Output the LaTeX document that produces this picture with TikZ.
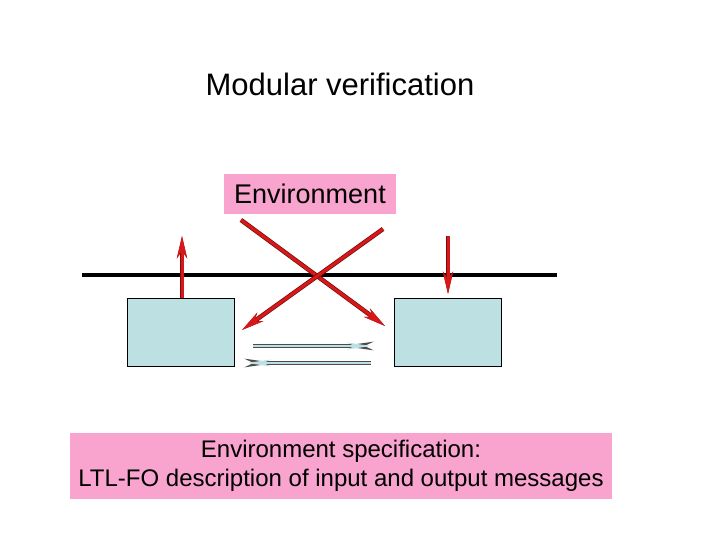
\documentclass[tikz,border=0pt]{standalone}
\usepackage{fontspec}
\setmainfont{Liberation Sans}
\usetikzlibrary{arrows.meta,positioning}
\definecolor{envpink}{HTML}{F9A3CF}
\definecolor{boxblue}{HTML}{BDE0E3}
\definecolor{msgred}{HTML}{D81818}
\begin{document}
\begin{tikzpicture}[x=1pt,y=-1pt,
    label box/.style = {fill=envpink, inner sep=3pt},
    module/.style = {draw, fill=boxblue, minimum width=107pt, minimum height=68pt, inner sep=0pt},
    msg/.style = {draw=msgred, line width=3pt, preaction={draw=msgred!55!black, line width=4.5pt},
                  -{Stealth[length=22pt,width=10pt]}},
    chan/.style = {draw=boxblue, line width=2.5pt, preaction={draw=black!70, line width=4pt},
                   -{Stealth[length=24pt,width=7pt]}}
  ]
    \useasboundingbox (0,0) rectangle (720,540);

    \node[font=\fontsize{31}{36}\selectfont] (title) at (340,84) {Modular verification};
    \node[label box, font=\fontsize{27}{32}\selectfont, minimum width=172pt, minimum height=40pt] (env) at (310,194) {Environment};

    \coordinate (bus west) at (82,275);
    \coordinate (bus east) at (557,275);
    \draw[line width=4pt] (bus west) -- (bus east);

    \node[module] (left module) at (181,332) {};
    \node[module] (right module) at (448,332) {};

    \coordinate (up end) at (182,236);
    \coordinate (down start) at (448,236);
    \coordinate (down end) at (448,294);
    \draw[msg] (left module.north -| up end) -- (up end);
    \draw[msg] (down start) -- (down end);

    \coordinate (cross a) at (241,220);
    \coordinate (cross b) at (385,326);
    \coordinate (cross c) at (383,229);
    \coordinate (cross d) at (242,330);
    \draw[msg] (cross a) -- (cross b);
    \draw[msg] (cross c) -- (cross d);

    \coordinate (send start) at (253,346);
    \coordinate (send end) at (371,346);
    \coordinate (reply start) at (371,363);
    \coordinate (reply end) at (247,363);
    \draw[chan] (send start) -- (send end);
    \draw[chan] (reply start) -- (reply end);

    \node[label box, font=\fontsize{24}{29}\selectfont, minimum width=542pt, minimum height=66pt, align=center] (spec) at (341,466)
        {Environment specification:\\LTL-FO description of input and output messages};
\end{tikzpicture}
\end{document}
